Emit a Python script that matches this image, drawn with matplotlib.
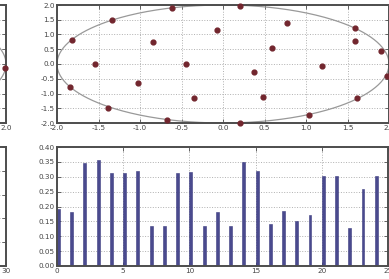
import numpy as np
import matplotlib
matplotlib.use("Agg")
import matplotlib.pyplot as plt

# ---- data ----
scatter_x = [-1.82, -1.34, -0.62, -0.84, -1.54, -0.44, -1.02, -1.84, -0.35, -1.38, -0.68,
             0.20, -0.07, 0.77, 0.59, 1.59, 1.59, 1.90, 0.37, 1.19, 1.97, 0.48, 1.62, 1.04, 0.20]
scatter_y = [0.80, 1.48, 1.91, 0.76, 0.00, 0.00, -0.64, -0.77, -1.15, -1.48, -1.90,
             1.98, 1.15, 1.38, 0.53, 1.22, 0.77, 0.44, -0.28, -0.06, -0.40, -1.13, -1.15, -1.74, -2.00]

left_scatter_x = [1.99]
left_scatter_y = [-0.12]

bar_values = [0.190, 0.183, 0.347, 0.355, 0.314, 0.313, 0.318, 0.134, 0.135, 0.312,
              0.315, 0.134, 0.180, 0.136, 0.349, 0.319, 0.142, 0.184, 0.150, 0.172,
              0.302, 0.303, 0.128, 0.259, 0.303]
bar_positions = list(range(len(bar_values)))

ellipse_radius = 2.0

# ---- styling ----
W, H = 389, 279
DPI = 100
fig = plt.figure(figsize=(W / DPI, H / DPI), dpi=DPI)

SPINE = '#4d4d4d'
TICKC = '#444444'
GRIDC = '#b0b0b0'
FS = 5.2
PT_COLOR = '#72262e'


def px_axes(left, top, right, bottom):
    return fig.add_axes([left / W, (H - bottom) / H, (right - left) / W, (bottom - top) / H])


def style(ax):
    for s in ax.spines.values():
        s.set_color(SPINE)
        s.set_linewidth(1.4)
    ax.tick_params(direction='in', length=3, width=0.6, colors=SPINE,
                   labelcolor=TICKC, labelsize=FS, pad=1.5,
                   top=True, right=True)
    ax.grid(True, linestyle=':', color=GRIDC, linewidth=0.7)
    ax.set_axisbelow(True)


t = np.linspace(0, 2 * np.pi, 400)

# top-left (mostly off canvas)
ax_tl = px_axes(6 - 331, 5, 6, 123)
style(ax_tl)
ax_tl.plot(ellipse_radius * np.cos(t), ellipse_radius * np.sin(t), color='#999999', lw=0.9)
ax_tl.scatter(left_scatter_x, left_scatter_y, s=12, color=PT_COLOR, zorder=3, clip_on=False)
ax_tl.set_xlim(-2, 2)
ax_tl.set_ylim(-2, 2)
ax_tl.set_xticks(np.arange(-2, 2.01, 0.5))
ax_tl.set_yticks(np.arange(-2, 2.01, 0.5))
ax_tl.xaxis.set_major_formatter(matplotlib.ticker.FormatStrFormatter('%.1f'))
ax_tl.yaxis.set_major_formatter(matplotlib.ticker.FormatStrFormatter('%.1f'))

# bottom-left (mostly off canvas)
ax_bl = px_axes(6 - 331, 147, 6, 266)
style(ax_bl)
ax_bl.set_xlim(0, 30)
ax_bl.set_ylim(0, 1)
ax_bl.set_xticks(np.arange(0, 31, 5))
ax_bl.set_yticks(np.arange(0, 1.01, 0.2))

# top-right scatter
ax_t = px_axes(57, 5, 389, 123)
style(ax_t)
ax_t.plot(ellipse_radius * np.cos(t), ellipse_radius * np.sin(t), color='#999999', lw=0.9)
ax_t.scatter(scatter_x, scatter_y, s=12, color=PT_COLOR, zorder=3, clip_on=False)
ax_t.set_xlim(-2, 2)
ax_t.set_ylim(-2, 2)
ax_t.set_xticks(np.arange(-2, 2.01, 0.5))
ax_t.set_yticks(np.arange(-2, 2.01, 0.5))
ax_t.xaxis.set_major_formatter(matplotlib.ticker.FormatStrFormatter('%.1f'))
ax_t.yaxis.set_major_formatter(matplotlib.ticker.FormatStrFormatter('%.1f'))

# bottom-right bars
ax_b = px_axes(57, 147, 388, 266)
style(ax_b)
ax_b.bar(bar_positions, bar_values, width=0.22, align='edge', color='#4a4a8e',
         edgecolor='#3c3c80', linewidth=0.4)
ax_b.set_xlim(0, 25)
ax_b.set_ylim(0, 0.40)
ax_b.set_xticks(np.arange(0, 26, 5))
ax_b.set_yticks(np.arange(0, 0.401, 0.05))
ax_b.yaxis.set_major_formatter(matplotlib.ticker.FormatStrFormatter('%.2f'))

fig.savefig('out.png', dpi=DPI)
